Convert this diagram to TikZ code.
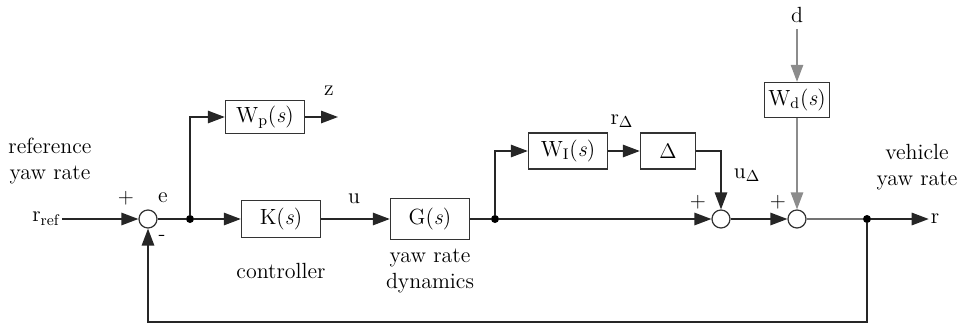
\documentclass[tikz,border=0pt]{standalone}
\usetikzlibrary{arrows.meta,calc}

\begin{document}
\begin{tikzpicture}[
  x=1cm,y=1cm,
  font=\fontsize{12.5}{14.5}\selectfont,
  block/.style={draw=black!80, line width=0.8pt, minimum width=1.58cm, minimum height=0.74cm, inner sep=1pt},
  sumnode/.style={circle, draw=black!80, fill=white, line width=0.7pt, minimum size=3.6mm, inner sep=0pt},
  junc/.style={circle, fill=black, minimum size=1.6mm, inner sep=0pt},
  txt/.style={inner sep=1pt},
  sign/.style={font=\fontsize{12}{13}\selectfont, inner sep=1pt},
  sig/.style={black!85, line width=0.8pt, -{Triangle[length=3.4mm,width=2.5mm]}},
  faint/.style={black!45, line width=0.7pt, -{Triangle[length=3.4mm,width=2.5mm]}}
]
\useasboundingbox (0,0) rectangle (19.2,6.54);

% ----------------------------- main loop -----------------------------
\node[txt] (rref) at (0.92,2.16) {r\textsubscript{ref}};
\node[txt, align=center] (reftxt) at (1.00,3.32) {reference\\yaw rate};
\node[sumnode] (s1) at (2.96,2.16) {};
\node[sign] (p1) at (2.52,2.58) {+};
\node[txt] (e) at (3.26,2.58) {e};
\node[sign] (m1) at (3.24,1.78) {-};
\node[junc] (d1) at (3.80,2.16) {};

\node[block] (K) at (5.62,2.16) {K(\textit{s})};
\node[txt] (ctrl) at (5.62,1.12) {controller};
\node[txt] (u) at (7.08,2.56) {u};

\node[block, minimum height=0.82cm] (G) at (8.60,2.16) {G(\textit{s})};
\node[txt, align=center] (gtxt) at (8.60,1.12) {yaw rate\\dynamics};
\node[junc] (d2) at (9.90,2.16) {};

\node[sumnode] (s2) at (14.42,2.16) {};
\node[sign] (p2) at (13.96,2.50) {+};
\node[sumnode] (s3) at (15.94,2.16) {};
\node[sign] (p3) at (15.56,2.50) {+};
\node[junc] (d3) at (17.34,2.16) {};
\node[txt] (r) at (18.70,2.16) {r};
\node[txt, align=center] (vtxt) at (18.34,3.20) {vehicle\\yaw rate};

% ----------------------------- weights -----------------------------
\node[block, minimum height=0.66cm] (Wp) at (5.30,4.20) {W\textsubscript{p}(\textit{s})};
\coordinate (zend) at (6.76,4.20);
\node[txt] (z) at (6.58,4.72) {z};

\node[block, minimum height=0.72cm] (WI) at (11.36,3.52) {W\textsubscript{I}(\textit{s})};
\node[block, minimum width=1.10cm, minimum height=0.72cm] (Dl) at (13.36,3.52) {$\Delta$};
\node[txt] (rD) at (12.44,4.12) {r\textsubscript{$\Delta$}};
\node[txt] (uD) at (14.94,3.04) {u\textsubscript{$\Delta$}};

\node[block, minimum width=1.30cm, minimum height=0.70cm] (Wd) at (15.94,4.54) {W\textsubscript{d}(\textit{s})};
\node[txt] (d) at (15.94,6.24) {d};
\coordinate (din) at (15.94,5.96);

% ----------------------------- signals -----------------------------
\draw[sig] (rref) -- (s1);
\draw[black!85, line width=0.8pt] (s1) -- (d1);
\draw[sig] (d1) -- (K);
\draw[sig] (d1) |- (Wp);
\draw[sig] (Wp) -- (zend);
\draw[sig] (K) -- (G);
\draw[black!85, line width=0.8pt] (G) -- (d2);
\draw[sig] (d2) -- (s2);
\draw[sig] (d2) |- (WI);
\draw[sig] (WI) -- (Dl);
\draw[sig] (Dl) -| (s2);
\draw[sig] (s2) -- (s3);
\draw[faint] (din) -- (Wd);
\draw[faint] (Wd) -- (s3);
\draw[black!55, line width=0.7pt] (s3) -- (d3);
\draw[sig] (d3) -- (r);

% feedback path
\coordinate (fbr) at (17.34,0.10);
\draw[sig] (d3) -- (fbr) -| (s1);

\end{tikzpicture}
\end{document}
